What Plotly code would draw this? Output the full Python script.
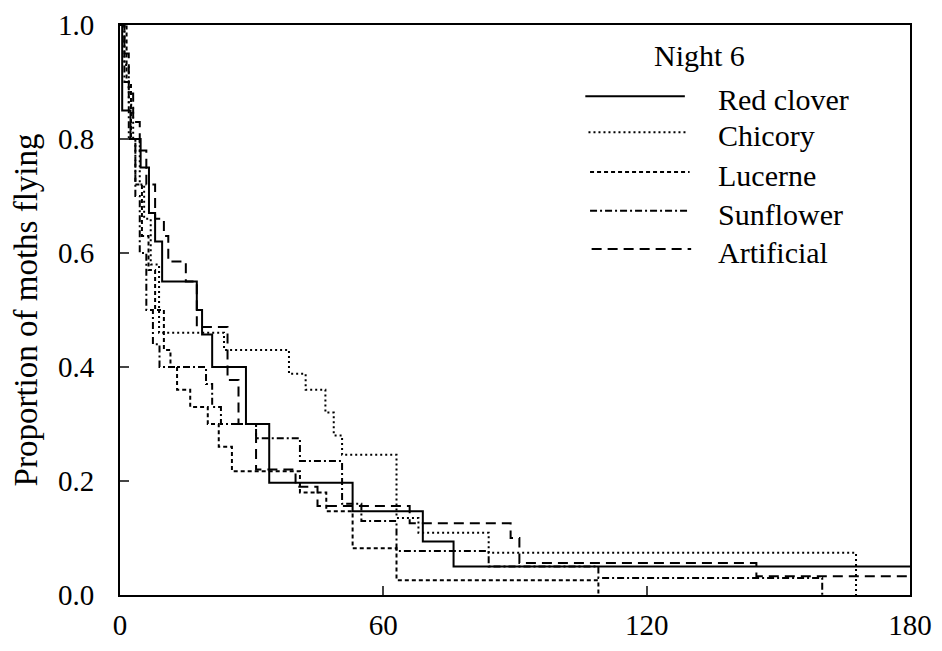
import plotly.graph_objects as go

# ---- data (minutes, proportion still flying) ----
red_t = [0, 0.5, 2.4, 4.7, 6.6, 8, 9.6, 17.5, 18.7, 21, 28.7, 34, 53, 69, 76, 180]
red_p = [1.0, 0.85, 0.80, 0.75, 0.67, 0.62, 0.55, 0.50, 0.457, 0.40, 0.30, 0.197, 0.147, 0.094, 0.05, 0.05]

chic_t = [0, 1, 2, 3, 4.5, 5.5, 7, 8.9, 23.7, 38.5, 42.3, 46.8, 48.7, 50.6, 63, 68, 84, 167.7]
chic_p = [1.0, 0.93, 0.86, 0.80, 0.72, 0.66, 0.58, 0.46, 0.43, 0.388, 0.36, 0.32, 0.28, 0.246, 0.135, 0.109, 0.074, 0.0]

luc_t = [0, 1.5, 2.5, 3.5, 5, 6.5, 8, 10, 11.5, 13, 16, 20, 22.5, 25.5, 41, 47, 53, 63, 109]
luc_p = [1.0, 0.9, 0.8, 0.72, 0.63, 0.57, 0.5, 0.43, 0.40, 0.36, 0.33, 0.30, 0.26, 0.217, 0.18, 0.147, 0.082, 0.026, 0.0]

sun_t = [0, 1, 2, 3.5, 4.5, 6, 7.5, 9, 19.6, 21, 23, 31, 41, 50.6, 55, 63, 84, 109, 160]
sun_p = [1.0, 0.9, 0.8, 0.7, 0.6, 0.5, 0.44, 0.40, 0.37, 0.33, 0.30, 0.275, 0.235, 0.16, 0.13, 0.077, 0.05, 0.03, 0.0]

art_t = [0, 1, 2, 3, 4.5, 6, 8, 10, 11, 15, 17.5, 24.5, 27, 31, 40, 45, 66, 89, 91, 145, 180]
art_p = [1.0, 0.95, 0.88, 0.83, 0.78, 0.72, 0.66, 0.63, 0.585, 0.55, 0.47, 0.377, 0.30, 0.22, 0.19, 0.156, 0.126, 0.10, 0.056, 0.033, 0.033]

x_ticks = [0, 60, 120, 180]
y_ticks = [0.0, 0.2, 0.4, 0.6, 0.8, 1.0]
y_tick_text = ["0.0", "0.2", "0.4", "0.6", "0.8", "1.0"]

series = [
    ("Red clover", red_t, red_p, "solid"),
    ("Chicory", chic_t, chic_p, "2px,3px"),
    ("Lucerne", luc_t, luc_p, "4px,3px"),
    ("Sunflower", sun_t, sun_p, "7px,3px,2px,3px"),
    ("Artificial", art_t, art_p, "10px,6px"),
]

FONT = "Liberation Serif, Times New Roman, serif"

fig = go.Figure()
for name, t, p, dash in series:
    fig.add_trace(go.Scatter(
        x=t, y=p, mode="lines", name=name,
        line=dict(shape="hv", color="black", width=2, dash=dash),
        showlegend=False,
    ))

# manual legend (paper coords)
leg_y = [0.875, 0.812, 0.742, 0.674, 0.607]
leg_x0 = [0.589, 0.593, 0.595, 0.595, 0.597]
shapes = []
annotations = []
for (name, t, p, dash), ly, lx in zip(series, leg_y, leg_x0):
    shapes.append(dict(type="line", xref="paper", yref="paper",
                       x0=lx, x1=lx + 0.126, y0=ly, y1=ly,
                       line=dict(color="black", width=2, dash=dash)))
    annotations.append(dict(xref="paper", yref="paper", x=0.755, y=ly - 0.006,
                            text=name, showarrow=False, xanchor="left",
                            yanchor="middle",
                            font=dict(family=FONT, size=30, color="black")))
annotations.append(dict(xref="paper", yref="paper", x=0.734, y=0.946,
                        text="Night 6", showarrow=False, xanchor="center",
                        yanchor="middle",
                        font=dict(family=FONT, size=30, color="black")))

fig.update_layout(
    width=942, height=651,
    margin=dict(l=120, r=32, t=25, b=56, autoexpand=False),
    paper_bgcolor="white", plot_bgcolor="white",
    font=dict(family=FONT, size=29, color="black"),
    shapes=shapes, annotations=annotations,
    xaxis=dict(range=[0, 180], tickvals=x_ticks, ticks="inside", ticklen=9,
               tickwidth=2, showline=True, linewidth=2, linecolor="black",
               mirror=True, showgrid=False, zeroline=False, automargin=False,
               ticklabelstandoff=3, tickfont=dict(size=29)),
    yaxis=dict(range=[0, 1], tickvals=y_ticks, ticktext=y_tick_text,
               ticks="inside", ticklen=9, tickwidth=2, showline=True,
               linewidth=2, linecolor="black", mirror=True, showgrid=False,
               zeroline=False, automargin=False, ticklabelstandoff=18,
               tickfont=dict(size=29),
               title=dict(text="Proportion of moths flying", standoff=10,
                          font=dict(size=33))),
)

fig.write_html("out.html")
